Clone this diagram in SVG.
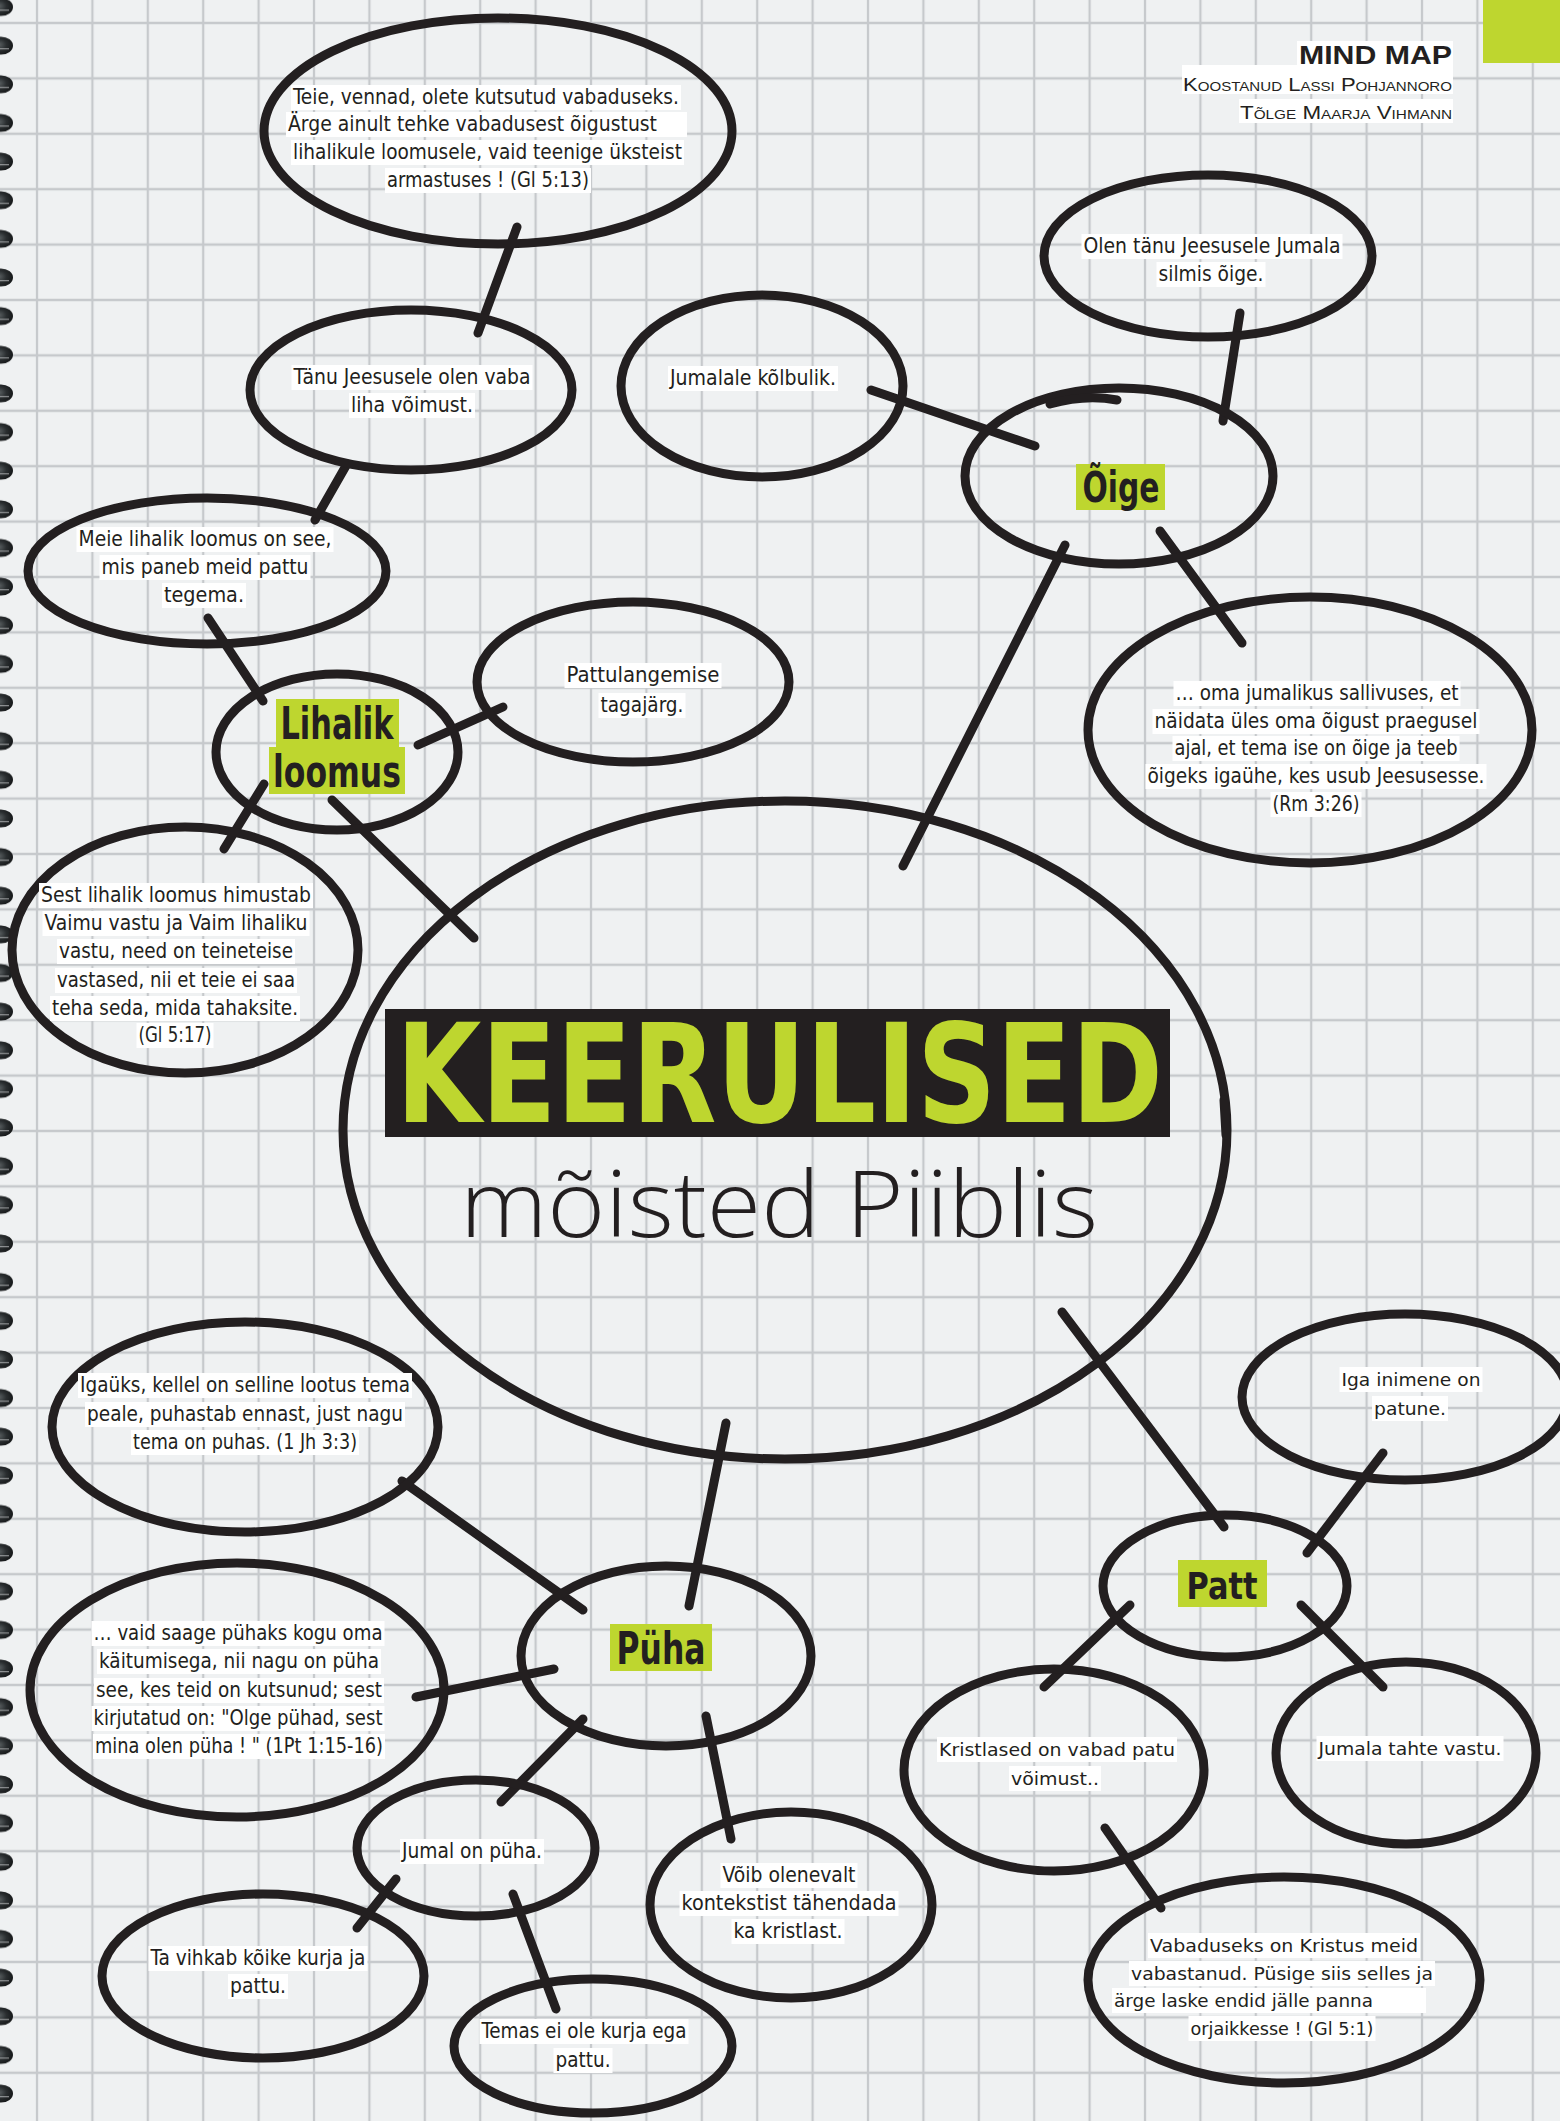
<svg xmlns="http://www.w3.org/2000/svg" width="1560" height="2121" viewBox="0 0 1560 2121">
<style>
.o{fill:none;stroke:#231f20;stroke-width:9;stroke-linecap:round;stroke-linejoin:round}
.c{stroke:#231f20;stroke-width:9;stroke-linecap:round;fill:none}
.bg{fill:#ffffff}
.g{fill:#bed62f}
.t{font-family:"Liberation Sans Narrow","DejaVu Sans Condensed","Liberation Sans",sans-serif;font-size:21px;fill:#231f20;text-anchor:middle}
.w{font-family:"DejaVu Sans","Liberation Sans",sans-serif;font-size:18px;fill:#231f20;text-anchor:middle}
.ts{text-anchor:start}
.h{font-family:"Liberation Sans Narrow","DejaVu Sans Condensed","Liberation Sans",sans-serif;font-weight:bold;fill:#231f20;text-anchor:middle}
.hw{font-family:"DejaVu Sans","Liberation Sans",sans-serif;font-weight:bold;fill:#231f20;text-anchor:middle}
.hd{font-family:"Liberation Sans","DejaVu Sans",sans-serif;fill:#231f20;text-anchor:end}
</style>
<defs>
<pattern id="grid" patternUnits="userSpaceOnUse" x="35" y="21" width="55.4" height="55.4">
<path d="M2,0V55.4M0,2H55.4" stroke="#c6c9cc" stroke-width="2.3" fill="none"/>
</pattern>
<radialGradient id="ring" cx="0.4" cy="0.45" r="0.65">
<stop offset="0" stop-color="#5c6264"/>
<stop offset="0.5" stop-color="#2a2e30"/>
<stop offset="1" stop-color="#121415"/>
</radialGradient>
<pattern id="spiral" patternUnits="userSpaceOnUse" x="0" y="-12.3" width="20" height="38.64">
<ellipse cx="1" cy="19.3" rx="12" ry="9" fill="url(#ring)"/>
<path d="M0,22.5 H9" stroke="#d9dcdd" stroke-width="1" opacity="0.7"/>
</pattern>
</defs>
<rect x="0" y="0" width="1560" height="2121" fill="#eff1f2"/>
<rect x="0" y="0" width="1560" height="2121" fill="url(#grid)"/>
<rect x="0" y="0" width="16" height="2121" fill="url(#spiral)"/>
<rect x="1483" y="0" width="77" height="63" class="g"/>

<g id="header">
<rect x="1297" y="41" width="156" height="25" class="bg"/>
<rect x="1182" y="65" width="271" height="29" class="bg"/>
<rect x="1239" y="99" width="214" height="24" class="bg"/>
<text class="hd" x="1452" y="64" font-size="25" font-weight="bold" textLength="153" lengthAdjust="spacingAndGlyphs">MIND MAP</text>
<text class="hd" x="1452" y="91" font-size="19" font-variant="small-caps" textLength="269" lengthAdjust="spacingAndGlyphs">Koostanud Lassi Pohjannoro</text>
<text class="hd" x="1452" y="119" font-size="19" font-variant="small-caps" textLength="212" lengthAdjust="spacingAndGlyphs">Tõlge Maarja Vihmann</text>
</g>

<g id="connectors">
<line class="c" x1="517" y1="227" x2="478" y2="333"/>
<line class="c" x1="347" y1="464" x2="315" y2="520"/>
<line class="c" x1="208" y1="618" x2="263" y2="701"/>
<line class="c" x1="418" y1="745" x2="503" y2="707"/>
<line class="c" x1="264" y1="784" x2="224" y2="849"/>
<line class="c" x1="332" y1="800" x2="474" y2="938"/>
<line class="c" x1="1240" y1="313" x2="1223" y2="421"/>
<line class="c" x1="871" y1="390" x2="1035" y2="446"/>
<line class="c" x1="1065" y1="545" x2="903" y2="866"/>
<line class="c" x1="1160" y1="531" x2="1242" y2="643"/>
<line class="c" x1="402" y1="1481" x2="583" y2="1610"/>
<line class="c" x1="726" y1="1423" x2="689" y2="1606"/>
<line class="c" x1="554" y1="1669" x2="416" y2="1697"/>
<line class="c" x1="583" y1="1719" x2="501" y2="1802"/>
<line class="c" x1="396" y1="1879" x2="357" y2="1928"/>
<line class="c" x1="513" y1="1894" x2="556" y2="2009"/>
<line class="c" x1="706" y1="1716" x2="731" y2="1839"/>
<line class="c" x1="1062" y1="1312" x2="1224" y2="1527"/>
<line class="c" x1="1383" y1="1453" x2="1307" y2="1553"/>
<line class="c" x1="1130" y1="1605" x2="1044" y2="1687"/>
<line class="c" x1="1301" y1="1605" x2="1383" y2="1687"/>
<line class="c" x1="1105" y1="1828" x2="1161" y2="1908"/>
</g>

<g id="n-central">
<ellipse class="o" cx="785" cy="1130" rx="442" ry="329" stroke-width="11"/>
<path class="o" d="M1224,1100 L1226,1135"/>
<rect x="385" y="1009" width="785" height="128" fill="#231f20"/>
<text x="396" y="1122" font-family="Liberation Sans Narrow,DejaVu Sans Condensed,Liberation Sans,sans-serif" font-weight="bold" font-size="138" fill="#bed62f" textLength="767" lengthAdjust="spacingAndGlyphs">KEERULISED</text>
<text x="460" y="1237" font-family="Open Sans,DejaVu Sans,sans-serif" font-weight="300" font-size="92" fill="#231f20" textLength="638" lengthAdjust="spacingAndGlyphs">mõisted Piiblis</text>
</g>

<g id="n-teie">
<ellipse class="o" cx="498" cy="131" rx="234" ry="113"/>
<rect class="bg" x="291" y="85" width="390" height="25"/>
<rect class="bg" x="286" y="112" width="401" height="25"/>
<rect class="bg" x="291" y="140" width="393" height="25"/>
<rect class="bg" x="385" y="168" width="206" height="25"/>
<text class="t" x="486" y="104" textLength="386" lengthAdjust="spacingAndGlyphs">Teie, vennad, olete kutsutud vabaduseks.</text>
<text class="t" x="288" y="131" text-anchor="start" style="text-anchor:start" textLength="369" lengthAdjust="spacingAndGlyphs">Ärge ainult tehke vabadusest õigustust</text>
<text class="t" x="487.5" y="159" textLength="389" lengthAdjust="spacingAndGlyphs">lihalikule loomusele, vaid teenige üksteist</text>
<text class="t" x="488" y="187" textLength="202" lengthAdjust="spacingAndGlyphs">armastuses ! (Gl 5:13)</text>
</g>

<g id="n-tanu">
<ellipse class="o" cx="411" cy="390" rx="161" ry="80"/>
<rect class="bg" x="291.5" y="365" width="241" height="25"/>
<rect class="bg" x="349" y="393" width="126" height="25"/>
<text class="t" x="412" y="384" textLength="237" lengthAdjust="spacingAndGlyphs">Tänu Jeesusele olen vaba</text>
<text class="t" x="412" y="412" textLength="122" lengthAdjust="spacingAndGlyphs">liha võimust.</text>
</g>

<g id="n-meie">
<ellipse class="o" cx="207" cy="571" rx="179" ry="73"/>
<rect class="bg" x="76.5" y="527" width="257" height="25"/>
<rect class="bg" x="99.5" y="555" width="211" height="25"/>
<rect class="bg" x="162" y="583" width="84" height="25"/>
<text class="t" x="205" y="546" textLength="253" lengthAdjust="spacingAndGlyphs">Meie lihalik loomus on see,</text>
<text class="t" x="205" y="574" textLength="207" lengthAdjust="spacingAndGlyphs">mis paneb meid pattu</text>
<text class="t" x="204" y="602" textLength="80" lengthAdjust="spacingAndGlyphs">tegema.</text>
</g>

<g id="n-lihalik">
<ellipse class="o" cx="337" cy="752" rx="121" ry="78"/>
<rect class="g" x="276" y="699" width="123" height="48"/>
<rect class="g" x="269" y="747" width="136" height="47"/>
<text class="h" x="337" y="739" font-size="44" textLength="113" lengthAdjust="spacingAndGlyphs">Lihalik</text>
<text class="h" x="337" y="787" font-size="44" textLength="128" lengthAdjust="spacingAndGlyphs">loomus</text>
</g>

<g id="n-pattulangemise">
<ellipse class="o" cx="633" cy="682" rx="156" ry="80"/>
<rect class="bg" x="564.5" y="663" width="157" height="25"/>
<rect class="bg" x="598.5" y="693" width="87" height="25"/>
<text class="t" x="643" y="682" textLength="153" lengthAdjust="spacingAndGlyphs">Pattulangemise</text>
<text class="t" x="642" y="712" textLength="83" lengthAdjust="spacingAndGlyphs">tagajärg.</text>
</g>

<g id="n-sest">
<ellipse class="o" cx="185" cy="950" rx="173" ry="123"/>
<rect class="bg" x="39" y="883" width="274" height="25"/>
<rect class="bg" x="42.5" y="911" width="267" height="25"/>
<rect class="bg" x="57" y="939" width="238" height="25"/>
<rect class="bg" x="55" y="968" width="242" height="25"/>
<rect class="bg" x="50" y="996" width="250" height="25"/>
<rect class="bg" x="136.5" y="1023" width="77" height="25"/>
<text class="t" x="176" y="902" textLength="270" lengthAdjust="spacingAndGlyphs">Sest lihalik loomus himustab</text>
<text class="t" x="176" y="930" textLength="263" lengthAdjust="spacingAndGlyphs">Vaimu vastu ja Vaim lihaliku</text>
<text class="t" x="176" y="958" textLength="234" lengthAdjust="spacingAndGlyphs">vastu, need on teineteise</text>
<text class="t" x="176" y="987" textLength="238" lengthAdjust="spacingAndGlyphs">vastased, nii et teie ei saa</text>
<text class="t" x="175" y="1015" textLength="246" lengthAdjust="spacingAndGlyphs">teha seda, mida tahaksite.</text>
<text class="t" x="175" y="1042" textLength="73" lengthAdjust="spacingAndGlyphs">(Gl 5:17)</text>
</g>

<g id="n-olen">
<ellipse class="o" cx="1208" cy="256" rx="164" ry="81"/>
<rect class="bg" x="1081.5" y="234" width="261" height="25"/>
<rect class="bg" x="1156.5" y="262" width="109" height="25"/>
<text class="t" x="1212" y="253" textLength="257" lengthAdjust="spacingAndGlyphs">Olen tänu Jeesusele Jumala</text>
<text class="t" x="1211" y="281" textLength="105" lengthAdjust="spacingAndGlyphs">silmis õige.</text>
</g>

<g id="n-jumalale">
<ellipse class="o" cx="762" cy="386" rx="141" ry="91"/>
<rect class="bg" x="668" y="366" width="170" height="25"/>
<text class="t" x="753" y="385" textLength="166" lengthAdjust="spacingAndGlyphs">Jumalale kõlbulik.</text>
</g>

<g id="n-oige">
<ellipse class="o" cx="1119" cy="476" rx="154" ry="88"/>
<path class="o" d="M1050,404 Q1085,394 1117,400" stroke-width="11"/>
<rect class="g" x="1076" y="464" width="89" height="46"/>
<text class="h" x="1121" y="502" font-size="42" textLength="77" lengthAdjust="spacingAndGlyphs">Õige</text>
</g>

<g id="n-oma">
<ellipse class="o" cx="1310" cy="730" rx="222" ry="133"/>
<rect class="bg" x="1173.5" y="681" width="287" height="25"/>
<rect class="bg" x="1152.5" y="709" width="327" height="25"/>
<rect class="bg" x="1172.5" y="736" width="287" height="25"/>
<rect class="bg" x="1145.5" y="764" width="341" height="25"/>
<rect class="bg" x="1270.5" y="792" width="91" height="25"/>
<text class="t" x="1317" y="700" textLength="283" lengthAdjust="spacingAndGlyphs">… oma jumalikus sallivuses, et</text>
<text class="t" x="1316" y="728" textLength="323" lengthAdjust="spacingAndGlyphs">näidata üles oma õigust praegusel</text>
<text class="t" x="1316" y="755" textLength="283" lengthAdjust="spacingAndGlyphs">ajal, et tema ise on õige ja teeb</text>
<text class="t" x="1316" y="783" textLength="337" lengthAdjust="spacingAndGlyphs">õigeks igaühe, kes usub Jeesusesse.</text>
<text class="t" x="1316" y="811" textLength="87" lengthAdjust="spacingAndGlyphs">(Rm 3:26)</text>
</g>

<g id="n-igauks">
<ellipse class="o" cx="245" cy="1427" rx="193" ry="105"/>
<rect class="bg" x="78" y="1373" width="334" height="25"/>
<rect class="bg" x="85" y="1402" width="320" height="25"/>
<rect class="bg" x="131" y="1430" width="228" height="25"/>
<text class="t" x="245" y="1392" textLength="330" lengthAdjust="spacingAndGlyphs">Igaüks, kellel on selline lootus tema</text>
<text class="t" x="245" y="1421" textLength="316" lengthAdjust="spacingAndGlyphs">peale, puhastab ennast, just nagu</text>
<text class="t" x="245" y="1449" textLength="224" lengthAdjust="spacingAndGlyphs">tema on puhas. (1 Jh 3:3)</text>
</g>

<g id="n-puha">
<ellipse class="o" cx="666" cy="1656" rx="145" ry="90"/>
<rect class="g" x="610" y="1624" width="102" height="47"/>
<text class="h" x="661" y="1664" font-size="44" textLength="89" lengthAdjust="spacingAndGlyphs">Püha</text>
</g>

<g id="n-vaid">
<ellipse class="o" cx="237" cy="1690" rx="207" ry="127"/>
<rect class="bg" x="91.5" y="1621" width="293" height="25"/>
<rect class="bg" x="97" y="1649" width="284" height="25"/>
<rect class="bg" x="94" y="1678" width="290" height="25"/>
<rect class="bg" x="91.5" y="1706" width="293" height="25"/>
<rect class="bg" x="93" y="1734" width="292" height="25"/>
<text class="t" x="238" y="1640" textLength="289" lengthAdjust="spacingAndGlyphs">… vaid saage pühaks kogu oma</text>
<text class="t" x="239" y="1668" textLength="280" lengthAdjust="spacingAndGlyphs">käitumisega, nii nagu on püha</text>
<text class="t" x="239" y="1697" textLength="286" lengthAdjust="spacingAndGlyphs">see, kes teid on kutsunud; sest</text>
<text class="t" x="238" y="1725" textLength="289" lengthAdjust="spacingAndGlyphs">kirjutatud on: "Olge pühad, sest</text>
<text class="t" x="239" y="1753" textLength="288" lengthAdjust="spacingAndGlyphs">mina olen püha ! " (1Pt 1:15-16)</text>
</g>

<g id="n-jumal">
<ellipse class="o" cx="476" cy="1848" rx="119" ry="68"/>
<rect class="bg" x="400" y="1839" width="144" height="25"/>
<text class="t" x="472" y="1858" textLength="140" lengthAdjust="spacingAndGlyphs">Jumal on püha.</text>
</g>

<g id="n-vihkab">
<ellipse class="o" cx="263" cy="1976" rx="161" ry="82"/>
<rect class="bg" x="148.5" y="1946" width="219" height="25"/>
<rect class="bg" x="228" y="1974" width="60" height="25"/>
<text class="t" x="258" y="1965" textLength="215" lengthAdjust="spacingAndGlyphs">Ta vihkab kõike kurja ja</text>
<text class="t" x="258" y="1993" textLength="56" lengthAdjust="spacingAndGlyphs">pattu.</text>
</g>

<g id="n-temas">
<ellipse class="o" cx="593" cy="2046" rx="139" ry="67"/>
<rect class="bg" x="479.5" y="2019" width="209" height="25"/>
<rect class="bg" x="553.5" y="2048" width="59" height="25"/>
<text class="t" x="584" y="2038" textLength="205" lengthAdjust="spacingAndGlyphs">Temas ei ole kurja ega</text>
<text class="t" x="583" y="2067" textLength="55" lengthAdjust="spacingAndGlyphs">pattu.</text>
</g>

<g id="n-voib">
<ellipse class="o" cx="791" cy="1905" rx="141" ry="93"/>
<rect class="bg" x="720.5" y="1863" width="137" height="25"/>
<rect class="bg" x="679.5" y="1891" width="219" height="25"/>
<rect class="bg" x="731.5" y="1919" width="113" height="25"/>
<text class="t" x="789" y="1882" textLength="133" lengthAdjust="spacingAndGlyphs">Võib olenevalt</text>
<text class="t" x="789" y="1910" textLength="215" lengthAdjust="spacingAndGlyphs">kontekstist tähendada</text>
<text class="t" x="788" y="1938" textLength="109" lengthAdjust="spacingAndGlyphs">ka kristlast.</text>
</g>

<g id="n-iga">
<ellipse class="o" cx="1405" cy="1397" rx="163" ry="83"/>
<rect class="bg" x="1339.5" y="1367" width="143" height="25"/>
<rect class="bg" x="1372" y="1396" width="76" height="25"/>
<text class="w" x="1411" y="1386" textLength="139" lengthAdjust="spacingAndGlyphs">Iga inimene on</text>
<text class="w" x="1410" y="1415" textLength="72" lengthAdjust="spacingAndGlyphs">patune.</text>
</g>

<g id="n-patt">
<ellipse class="o" cx="1225" cy="1586" rx="122" ry="71"/>
<rect class="g" x="1178" y="1560" width="89" height="47"/>
<text class="hw" x="1222" y="1599" font-size="38" textLength="71" lengthAdjust="spacingAndGlyphs">Patt</text>
</g>

<g id="n-kristlased">
<ellipse class="o" cx="1054" cy="1770" rx="150" ry="101"/>
<rect class="bg" x="937" y="1737" width="240" height="25"/>
<rect class="bg" x="1009" y="1766" width="92" height="25"/>
<text class="w" x="1057" y="1756" textLength="236" lengthAdjust="spacingAndGlyphs">Kristlased on vabad patu</text>
<text class="w" x="1055" y="1785" textLength="88" lengthAdjust="spacingAndGlyphs">võimust..</text>
</g>

<g id="n-tahte">
<ellipse class="o" cx="1406" cy="1753" rx="130" ry="91"/>
<rect class="bg" x="1316.5" y="1736" width="187" height="25"/>
<text class="w" x="1410" y="1755" textLength="183" lengthAdjust="spacingAndGlyphs">Jumala tahte vastu.</text>
</g>

<g id="n-vabaduseks">
<ellipse class="o" cx="1284" cy="1980" rx="196" ry="103"/>
<rect class="bg" x="1148" y="1933" width="272" height="25"/>
<rect class="bg" x="1129" y="1961" width="306" height="25"/>
<rect class="bg" x="1112" y="1988" width="314" height="25"/>
<rect class="bg" x="1188.5" y="2016" width="187" height="25"/>
<text class="w" x="1284" y="1952" textLength="268" lengthAdjust="spacingAndGlyphs">Vabaduseks on Kristus meid</text>
<text class="w" x="1282" y="1980" textLength="302" lengthAdjust="spacingAndGlyphs">vabastanud. Püsige siis selles ja</text>
<text class="w" x="1114" y="2007" style="text-anchor:start" textLength="259" lengthAdjust="spacingAndGlyphs">ärge laske endid jälle panna</text>
<text class="w" x="1282" y="2035" textLength="183" lengthAdjust="spacingAndGlyphs">orjaikkesse ! (Gl 5:1)</text>
</g>
</svg>
